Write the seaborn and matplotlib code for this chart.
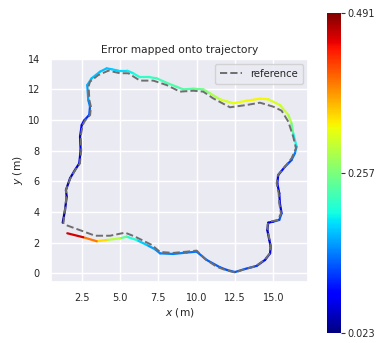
import numpy as np
import pandas as pd
import matplotlib
matplotlib.use("Agg")
import matplotlib.pyplot as plt
import seaborn as sns
from matplotlib.collections import LineCollection
from matplotlib.colors import Normalize

# estimated trajectory (m)
est_x = [1.26, 1.41, 1.52, 1.47, 1.74, 2.06, 2.34, 2.43, 2.39, 2.50, 2.65, 2.99, 3.04, 2.93, 2.86,
         3.15, 3.69, 4.13, 4.46, 4.89, 5.47, 5.86, 6.30, 6.95, 7.39, 8.04, 8.69, 9.13, 9.78, 10.43,
         10.87, 11.52, 12.39, 13.26, 14.13, 14.67, 15.43, 15.98, 16.19, 16.30, 16.52, 16.41, 16.19,
         15.76, 15.32, 15.26, 15.39, 15.43, 15.54, 15.39, 15.00, 14.67, 14.61, 14.74, 14.83, 14.79,
         14.46, 13.91, 13.15, 12.50, 11.96, 11.52, 10.65, 10.00, 9.35, 8.47, 7.61, 7.28, 6.74, 6.09,
         5.43, 5.00, 4.13, 3.48, 2.60, 1.56]
est_y = [3.30, 4.13, 5.00, 5.43, 6.20, 6.74, 7.17, 8.04, 8.91, 9.67, 9.96, 10.33, 10.87, 11.30, 12.28,
         12.72, 13.15, 13.37, 13.31, 13.22, 13.22, 13.05, 12.79, 12.79, 12.72, 12.43, 12.17, 12.00, 12.04, 12.00,
         11.74, 11.35, 11.09, 11.26, 11.39, 11.35, 10.98, 10.33, 9.78, 9.13, 8.26, 7.83, 7.39,
         6.95, 6.41, 5.87, 5.22, 4.57, 3.91, 3.48, 3.37, 3.30, 2.82, 2.17, 1.74, 1.30,
         0.87, 0.48, 0.28, 0.08, 0.22, 0.39, 0.87, 1.41, 1.35, 1.26, 1.30, 1.57, 1.85, 2.17,
         2.39, 2.28, 2.17, 2.09, 2.35, 2.61]
# error per pose (m)
err = [0.023, 0.040, 0.045, 0.050, 0.050, 0.055, 0.060, 0.070, 0.075, 0.080, 0.090, 0.110, 0.130, 0.150, 0.160,
       0.170, 0.170, 0.170, 0.175, 0.180, 0.185, 0.200, 0.210, 0.220, 0.220, 0.230, 0.230, 0.230, 0.240, 0.250,
       0.270, 0.300, 0.320, 0.320, 0.330, 0.320, 0.300, 0.300, 0.270, 0.220, 0.170, 0.150, 0.120,
       0.100, 0.080, 0.070, 0.080, 0.070, 0.090, 0.150, 0.080, 0.050, 0.050, 0.050, 0.060, 0.070,
       0.080, 0.100, 0.120, 0.130, 0.120, 0.120, 0.130, 0.130, 0.140, 0.140, 0.140, 0.150, 0.160, 0.190,
       0.220, 0.260, 0.320, 0.360, 0.420, 0.491]

# reference trajectory (m)
ref_x = [1.30, 1.41, 1.50, 1.47, 1.76, 2.08, 2.38, 2.47, 2.43, 2.56, 2.72, 3.05, 3.10, 3.00, 2.95, 3.04,
         3.58, 4.24, 5.00, 5.54, 6.30, 7.17, 8.04, 8.91, 9.78, 10.43, 11.08, 12.17, 13.26, 14.13, 15.00,
         15.54, 15.98, 16.30, 16.48, 16.19, 15.76, 15.30, 15.22, 15.35, 15.39, 15.50, 15.30, 14.80, 14.63,
         14.63, 14.76, 14.85, 14.79, 14.40, 13.85, 13.10, 12.50, 11.85, 11.30, 10.55, 10.00, 9.35, 8.48,
         7.61, 7.07, 5.98, 5.33, 4.35, 3.37, 1.63, 1.45]
ref_y = [3.22, 4.13, 5.00, 5.43, 6.20, 6.74, 7.17, 8.04, 8.91, 9.67, 9.96, 10.33, 10.87, 11.30, 12.20, 12.50,
         12.93, 13.22, 13.05, 13.05, 12.57, 12.57, 12.28, 11.85, 11.91, 11.85, 11.41, 10.83, 10.98, 11.13, 10.87,
         10.61, 9.89, 8.91, 8.15, 7.50, 6.95, 6.41, 5.87, 5.22, 4.57, 3.91, 3.48, 3.37, 3.20,
         2.82, 2.17, 1.74, 1.30, 0.85, 0.46, 0.26, 0.05, 0.22, 0.43, 0.93, 1.48, 1.41, 1.33,
         1.39, 1.85, 2.39, 2.65, 2.45, 2.45, 3.09, 3.15]

sns.set_theme(style="darkgrid")
plt.rcParams['font.family'] = ['DejaVu Sans']

W, H = 392, 343
fig = plt.figure(figsize=(W / 100, H / 100), dpi=100)
ax = fig.add_axes([51 / W, 1 - 281.7 / H, 257 / W, 223 / H])
cax = fig.add_axes([326.7 / W, 1 - 333 / H, 14 / W, 320.3 / H])

ref_df = pd.DataFrame({"x": ref_x, "y": ref_y})
sns.lineplot(data=ref_df, x="x", y="y", sort=False, estimator=None, ax=ax,
             color="#6e6e6e", linestyle="--", linewidth=1.4, label="reference", zorder=3)

ex = np.array(est_x)
ey = np.array(est_y)
e = np.array(err)
pts = np.column_stack([ex, ey]).reshape(-1, 1, 2)
segs = np.concatenate([pts[:-1], pts[1:]], axis=1)
norm = Normalize(vmin=e.min(), vmax=e.max())
seg_err = (e[:-1] + e[1:]) / 2
lc = LineCollection(segs, cmap="jet", norm=norm, linewidths=1.6, zorder=2, capstyle="round",
                    joinstyle="round")
lc.set_array(seg_err)
ax.add_collection(lc)

ax.set_xlim(0.5, 17.26)
ax.set_ylim(-0.55, 14.0)
ax.set_aspect("equal", adjustable="box")
ax.set_title("Error mapped onto trajectory", fontsize=7.7, pad=4)
ax.set_xlabel("$x$ (m)", fontsize=7.7, labelpad=2)
ax.set_ylabel("$y$ (m)", fontsize=7.7, labelpad=2)
ax.tick_params(labelsize=7, pad=2)
ax.legend(loc="upper right", fontsize=7.3, handlelength=2.2, borderpad=0.5)

sm = plt.cm.ScalarMappable(norm=norm, cmap="jet")
sm.set_array([])
vmin, vmax = e.min(), e.max()
cb = fig.colorbar(sm, cax=cax, ticks=[vmin, (vmin + vmax) / 2, vmax], format="%.3f")
cb.outline.set_visible(False)
cb.ax.tick_params(labelsize=7, length=3, width=0.8, color="#333333", pad=1.5)

fig.savefig("out.png", dpi=100)
